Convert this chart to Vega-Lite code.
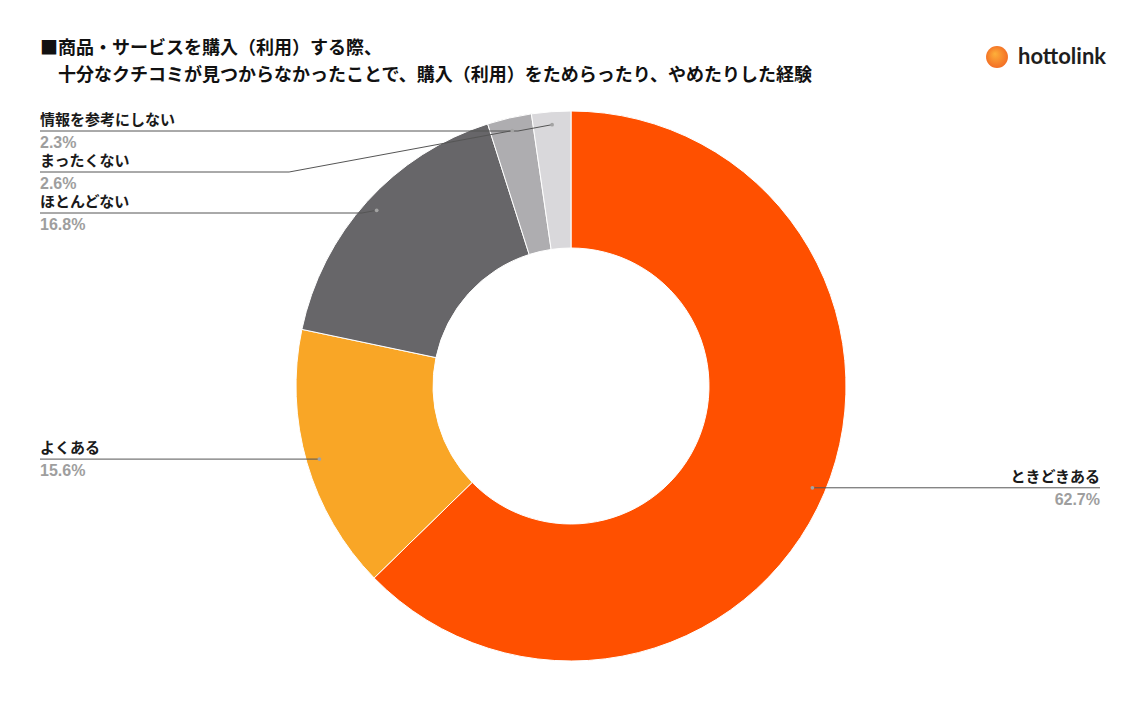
{
  "$schema": "https://vega.github.io/schema/vega-lite/v6.json",
  "width": 1062,
  "height": 582,
  "autosize": "none",
  "padding": {"left": 40, "top": 95, "right": 32, "bottom": 25},
  "background": "#ffffff",
  "config": {"view": {"stroke": null}},
  "title": {
    "text": ["■商品・サービスを購入（利用）する際、", "\u200b\u3000十分なクチコミが見つからなかったことで、購入（利用）をためらったり、やめたりした経験"],
    "anchor": "start",
    "frame": "group",
    "font": "Noto Sans CJK JP",
    "fontSize": 18,
    "fontWeight": "bold",
    "color": "#111111",
    "lineHeight": 27,
    "offset": -39
  },
  "data": {
    "values": [
      {"answer": "ときどきある", "share": 0.627, "order": 1},
      {"answer": "よくある", "share": 0.156, "order": 2},
      {"answer": "ほとんどない", "share": 0.168, "order": 3},
      {"answer": "まったくない", "share": 0.026, "order": 4},
      {"answer": "情報を参考にしない", "share": 0.023, "order": 5}
    ]
  },
  "transform": [
    {"joinaggregate": [{"op": "sum", "field": "share", "as": "total"}]},
    {"window": [{"op": "sum", "field": "share", "as": "cum"}], "sort": [{"field": "order"}], "frame": [null, 0]},
    {"calculate": "2*PI*(datum.cum - datum.share/2)/datum.total", "as": "a"},
    {"calculate": "width/2 + 262*sin(datum.a)", "as": "ax"},
    {"calculate": "height/2 - 262*cos(datum.a)", "as": "ay"},
    {"calculate": "sin(datum.a) < 0 ? 'left' : 'right'", "as": "side"},
    {"window": [{"op": "row_number", "as": "rn"}], "groupby": ["side"], "sort": [{"field": "ay"}]},
    {"calculate": "datum.ay - 41*(datum.rn - 1)", "as": "b"},
    {"window": [{"op": "max", "field": "b", "as": "bmax"}], "groupby": ["side"], "sort": [{"field": "ay"}], "frame": [null, 0]},
    {"calculate": "41*(datum.rn - 1) + max(datum.bmax, height/2 - 255)", "as": "ly"},
    {"calculate": "datum.side === 'left' ? 0 : width - 2", "as": "lx"},
    {"calculate": "datum.ax + (datum.side === 'left' ? -1 : 1)*5.4*abs(datum.ly - datum.ay)", "as": "kx"}
  ],
  "layer": [
    {
      "mark": {"type": "arc", "outerRadius": 275, "innerRadius": 138, "stroke": "#ffffff", "strokeWidth": 1},
      "encoding": {
        "theta": {"field": "share", "type": "quantitative", "stack": true},
        "order": {"field": "order", "type": "quantitative"},
        "color": {
          "field": "answer",
          "type": "nominal",
          "scale": {
            "domain": ["ときどきある", "よくある", "ほとんどない", "まったくない", "情報を参考にしない"],
            "range": ["#FF5000", "#F9A626", "#676669", "#AEADB0", "#D9D8DB"]
          },
          "legend": null
        }
      }
    },
    {
      "mark": {"type": "rule", "color": "#555555", "strokeWidth": 1},
      "encoding": {
        "x": {"field": "lx", "type": "quantitative", "scale": null, "axis": null},
        "x2": {"field": "kx"},
        "y": {"field": "ly", "type": "quantitative", "scale": null, "axis": null}
      }
    },
    {
      "mark": {"type": "rule", "color": "#555555", "strokeWidth": 1},
      "encoding": {
        "x": {"field": "kx", "type": "quantitative", "scale": null, "axis": null},
        "x2": {"field": "ax"},
        "y": {"field": "ly", "type": "quantitative", "scale": null, "axis": null},
        "y2": {"field": "ay"}
      }
    },
    {
      "mark": {"type": "circle", "size": 14, "color": "#A3A3A3", "opacity": 1},
      "encoding": {
        "x": {"field": "ax", "type": "quantitative", "scale": null, "axis": null},
        "y": {"field": "ay", "type": "quantitative", "scale": null, "axis": null}
      }
    },
    {
      "mark": {"type": "text", "font": "Noto Sans CJK JP", "fontSize": 15, "fontWeight": "bold", "color": "#1a1a1a", "baseline": "alphabetic", "dy": -6, "align": {"expr": "datum.side === 'left' ? 'left' : 'right'"}},
      "encoding": {
        "x": {"field": "lx", "type": "quantitative", "scale": null, "axis": null},
        "y": {"field": "ly", "type": "quantitative", "scale": null, "axis": null},
        "text": {"field": "answer"}
      }
    },
    {
      "mark": {"type": "text", "font": "Liberation Sans", "fontSize": 16, "fontWeight": "bold", "color": "#9E9E9E", "baseline": "alphabetic", "dy": 17, "align": {"expr": "datum.side === 'left' ? 'left' : 'right'"}},
      "encoding": {
        "x": {"field": "lx", "type": "quantitative", "scale": null, "axis": null},
        "y": {"field": "ly", "type": "quantitative", "scale": null, "axis": null},
        "text": {"field": "share", "type": "quantitative", "format": ".1%"}
      }
    },
    {
      "data": {"values": [{"brand": "hottolink"}]},
      "mark": {
        "type": "point", "shape": "circle", "filled": true, "size": 480, "opacity": 1,
        "x": {"expr": "width - 105"}, "y": -38,
        "fill": {"gradient": "radial", "x1": 0.4, "y1": 0.35, "r1": 0, "x2": 0.5, "y2": 0.5, "r2": 0.6,
          "stops": [{"offset": 0, "color": "#FDB03A"}, {"offset": 1, "color": "#F26522"}]}
      }
    },
    {
      "data": {"values": [{"brand": "hottolink"}]},
      "mark": {"type": "text", "font": "Lato", "fontSize": 22, "fontWeight": "bold", "color": "#1e1e1e", "align": "left", "baseline": "middle", "x": {"expr": "width - 84"}, "y": -38},
      "encoding": {"text": {"field": "brand"}}
    }
  ]
}
